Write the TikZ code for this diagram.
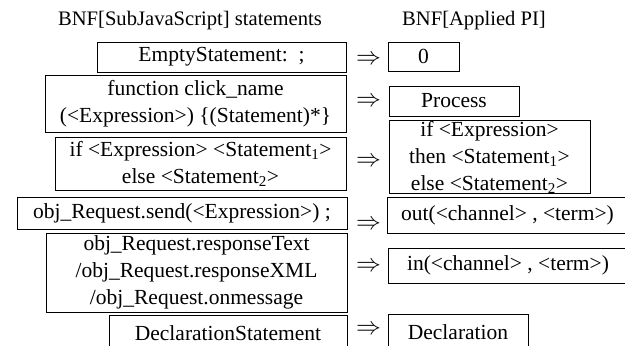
\documentclass[tikz,border=0pt]{standalone}
\usepackage{fontspec}
\setmainfont{Liberation Serif}
\usepackage{tikz}

\begin{document}
\begin{tikzpicture}[x=1pt, y=-1pt, every node/.style={font=\fontsize{21.5}{27}\selectfont},
  bnf/.style={draw, line width=0.9pt, inner sep=0pt, align=center}]
  \useasboundingbox (0,0) rectangle (625,346);
  \clip (0,0) rectangle (625,346);
  % column titles
  \node[font=\fontsize{20.6}{24}\selectfont] (jstitle) at (190,21) {BNF[SubJavaScript] statements};
  \node[font=\fontsize{20.6}{24}\selectfont] (pititle) at (474,21) {BNF[Applied PI]};
  % SubJavaScript side
  \node[bnf, minimum width=249, minimum height=30] (js1) at (221.5,57) {EmptyStatement:\enspace;};
  \node[bnf, minimum width=301, minimum height=57] (js2) at (195.5,103.5) {function click\_name\\(<Expression>) \{(Statement)*\}};
  \node[bnf, minimum width=291, minimum height=53] (js3) at (200.5,163.5) {if <Expression> <Statement\textsubscript{1}>\\else <Statement\textsubscript{2}>};
  \node[bnf, minimum width=330, minimum height=32] (js4) at (182,213) {obj\_Request.send(<Expression>) ;};
  \node[bnf, minimum width=301, minimum height=79] (js5) at (196.5,272.5) {obj\_Request.responseText\\/obj\_Request.responseXML\\/obj\_Request.onmessage};
  \node[bnf, minimum width=238, minimum height=36] (js6) at (228,333) {DeclarationStatement};
  % Applied PI side
  \node[bnf, minimum width=71, minimum height=29] (pi1) at (423.5,56.5) {0};
  \node[bnf, minimum width=130, minimum height=30] (pi2) at (454,101) {Process};
  \node[bnf, minimum width=201, minimum height=72] (pi3) at (489.5,157) {if <Expression>\\then <Statement\textsubscript{1}>\\else <Statement\textsubscript{2}>};
  \node[bnf, minimum width=241, minimum height=36] (pi4) at (507.5,215) {out(<channel> , <term>)};
  \node[bnf, minimum width=240, minimum height=35] (pi5) at (508,265.5) {in(<channel> , <term>)};
  \node[bnf, minimum width=140, minimum height=36] (pi6) at (458,332) {Declaration};
  % translation arrows
  \foreach \i/\y in {1/60,2/102,3/162,4/225,5/267,6/330}{
    \node[font=\fontsize{26}{26}\selectfont] (arr\i) at (368.5,\y) {$\Rightarrow$};
  }
\end{tikzpicture}
\end{document}
